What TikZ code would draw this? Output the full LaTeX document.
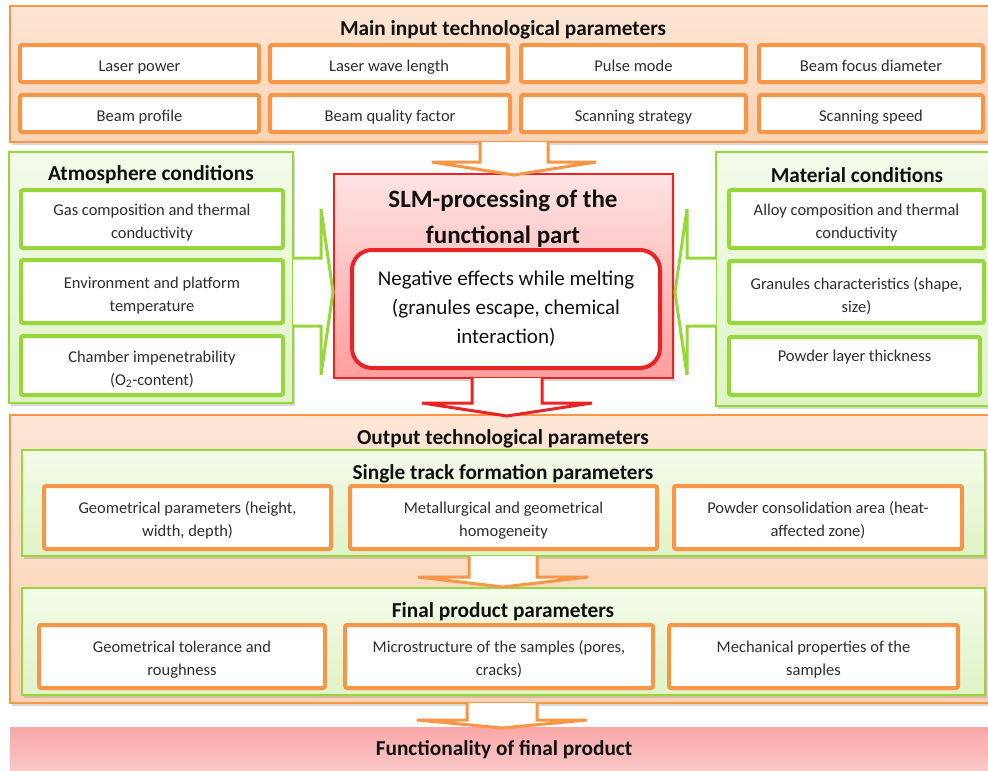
\documentclass[tikz,border=0pt]{standalone}
\usepackage{fontspec}
\setmainfont{Carlito}
\usetikzlibrary{shadows,calc}
\definecolor{orng}{HTML}{F79646}
\definecolor{peachT}{HTML}{FDE6D5}
\definecolor{peachB}{HTML}{FBD2B4}
\definecolor{grn}{HTML}{96D83C}
\definecolor{lgT}{HTML}{F3FBEA}
\definecolor{lgB}{HTML}{E0F3C6}
\definecolor{redl}{HTML}{E82424}
\definecolor{pinkT}{HTML}{FFE3E3}
\definecolor{pinkB}{HTML}{FF9E9E}
\definecolor{funT}{HTML}{F9A7A7}
\definecolor{funB}{HTML}{FDD6D6}
\definecolor{txt}{HTML}{2E2E2E}
\definecolor{ttl}{HTML}{111111}
\newcommand\smallf{\fontsize{16.5}{23}\selectfont}
\newcommand\titlef{\fontsize{21.3}{23}\selectfont\bfseries}
\newcommand\bigf{\fontsize{25}{36}\selectfont\bfseries}
\newcommand\negf{\fontsize{21}{29}\selectfont}
% name, style, x1, y1, x2, y2, text
\newcommand\mybox[7]{%
  \node[#2, minimum width={(#5-#3)*1pt}, minimum height={(#6-#4)*1pt}]
    (#1) at ({(#3+#5)/2},{(#4+#6)/2}) {#7};}
% framed text box: [text shift], name, frame style, x1, y1, x2, y2, text
\newcommand\tbox[8][-3pt]{%
  \node[#3, minimum width={(#6-#4)*1pt}, minimum height={(#7-#5)*1pt}]
    (#2) at ({(#4+#6)/2},{(#5+#7)/2}) {};
  \node[boxtxt] (#2txt) at ([yshift=#1]#2.center) {#8};}
% style, xc, ytop, yshaft, ytip, shafthalf, headhalf
\newcommand\blockdown[7]{%
  \filldraw[#1] ({#2-#6},#3) -- ({#2-#6},#4) -- ({#2-#7},#4) -- (#2,#5)
    -- ({#2+#7},#4) -- ({#2+#6},#4) -- ({#2+#6},#3);}
% style, yc, xstart, xshaft, xtip, shafthalf, headhalf
\newcommand\blockside[7]{%
  \filldraw[#1] (#3,{#2-#6}) -- (#4,{#2-#6}) -- (#4,{#2-#7}) -- (#5,#2)
    -- (#4,{#2+#7}) -- (#4,{#2+#6}) -- (#3,{#2+#6});}
\tikzset{
  pnl/.style={inner sep=0pt, drop shadow={shadow xshift=2pt, shadow yshift=-3pt, opacity=0.3}},
  opanel/.style={pnl, draw=orng, line width=1.5pt, top color=peachT, bottom color=peachB},
  gpanel/.style={pnl, draw=grn, line width=1.5pt, top color=lgT, bottom color=lgB},
  obox/.style={draw=orng, line width=4pt, fill=white, rounded corners=2pt, inner sep=0pt},
  gbox/.style={obox, draw=grn},
  boxtxt/.style={align=center, font=\smallf, text=txt, inner sep=0pt,
    execute at begin node={\strut}, execute at end node={\strut}},
  ttlnode/.style={font=\titlef, text=ttl, inner sep=0pt},
  oarrow/.style={draw=orng, fill=white, line width=3pt, line join=miter},
  rarrow/.style={draw=redl, fill=white, line width=3pt, line join=miter},
  garrow/.style={draw=grn, fill=white, line width=3pt, line join=miter},
}
\begin{document}
\begin{tikzpicture}[x=1pt,y=-1pt]
\useasboundingbox (0,0) rectangle (988,771);
\fill[white] (0,0) rectangle (988,771);
% ---------- top panel
\mybox{toppanel}{opanel}{10}{6}{994}{142}{}
\node[ttlnode] (toptitle) at (503,30) {Main input technological parameters};
\tbox{lp}{obox}{20}{45}{259}{82}{Laser power}
\tbox{lwl}{obox}{270}{45}{508}{82}{Laser wave length}
\tbox{pm}{obox}{521}{45}{746}{82}{Pulse mode}
\tbox{bfd}{obox}{759}{45}{983}{82}{Beam focus diameter}
\tbox{bp}{obox}{20}{95}{259}{132}{Beam profile}
\tbox{bqf}{obox}{270}{95}{510}{132}{Beam quality factor}
\tbox{ss}{obox}{521}{95}{746}{132}{Scanning strategy}
\tbox{ssp}{obox}{759}{95}{983}{132}{Scanning speed}
% ---------- atmosphere panel
\mybox{atm}{gpanel}{9}{152}{293}{403}{}
\node[ttlnode] (atmtitle) at (151,175) {Atmosphere conditions};
\tbox[-6pt]{gas}{gbox}{21}{190}{283}{248}{Gas composition and thermal\\conductivity}
\tbox[-6pt]{env}{gbox}{21}{260}{283}{323}{Environment and platform\\temperature}
\tbox[-6pt]{cha}{gbox}{21}{336}{283}{395}{Chamber impenetrability\\(O\textsubscript{2}-content)}
% ---------- material panel
\mybox{mat}{gpanel}{716}{152}{995}{406}{}
\node[ttlnode] (mattitle) at (857,175) {Material conditions};
\tbox[-6pt]{alloy}{gbox}{729}{190}{984}{248}{Alloy composition and thermal\\conductivity}
\tbox[-6pt]{gran}{gbox}{729}{261}{984}{323}{Granules characteristics (shape,\\size)}
\tbox[-5pt]{powd}{gbox}{729}{337}{980}{395}{Powder layer thickness\\\mbox{}}
% ---------- SLM
\mybox{slm}{pnl, draw=redl, line width=1.2pt, top color=pinkT, bottom color=pinkB}{334}{174}{673}{378}{}
\node[font=\bigf, text=ttl, align=center, inner sep=0pt] (slmtitle) at (503,219) {SLM-processing of the\\functional part};
\node[draw=redl, line width=4pt, fill=white, rounded corners=20pt, minimum width=308pt,
  minimum height=118pt, font=\negf, text=ttl, align=center, inner sep=0pt]
  (neg) at (506,309) {Negative effects while melting\\(granules escape, chemical\\interaction)};
% ---------- output panel
\mybox{outp}{opanel}{10}{415}{994}{703}{}
\node[ttlnode] (outtitle) at (503,439) {Output technological parameters};
\mybox{stp}{gpanel}{22}{450}{985}{556}{}
\node[ttlnode] (sttitle) at (503,474) {Single track formation parameters};
\tbox[-5pt]{geo}{obox}{44}{486}{331}{549}{Geometrical parameters (height,\\width, depth)}
\tbox[-5pt]{met}{obox}{350}{486}{657}{549}{Metallurgical and geometrical\\homogeneity}
\tbox[-5pt]{pca}{obox}{674}{486}{962}{549}{Powder consolidation area (heat-\\affected zone)}
\mybox{fpp}{gpanel}{22}{588}{985}{695}{}
\node[ttlnode] (fptitle) at (503,612) {Final product parameters};
\tbox[-5pt]{gtr}{obox}{39}{625}{325}{688}{Geometrical tolerance and\\roughness}
\tbox[-5pt]{mic}{obox}{345}{625}{653}{688}{Microstructure of the samples (pores,\\cracks)}
\tbox[-5pt]{mech}{obox}{669}{625}{958}{688}{Mechanical properties of the\\samples}
% ---------- functionality
\mybox{func}{draw=none, top color=funT, bottom color=funB, inner sep=0pt}{10}{727}{996}{790}{}
\node[ttlnode] (functitle) at (504,750) {Functionality of final product};
% ---------- block arrows
\blockdown{oarrow}{514}{142}{162}{175}{34}{82}
\blockdown{rarrow}{507}{378}{403}{416}{35}{85}
\blockdown{oarrow}{503}{556}{577}{587}{34}{85}
\blockdown{oarrow}{502}{703}{720}{728}{35}{85}
\blockside{garrow}{292}{293}{321}{333}{34}{83}
\blockside{garrow}{292}{716}{687}{675}{34}{83}
\end{tikzpicture}
\end{document}
